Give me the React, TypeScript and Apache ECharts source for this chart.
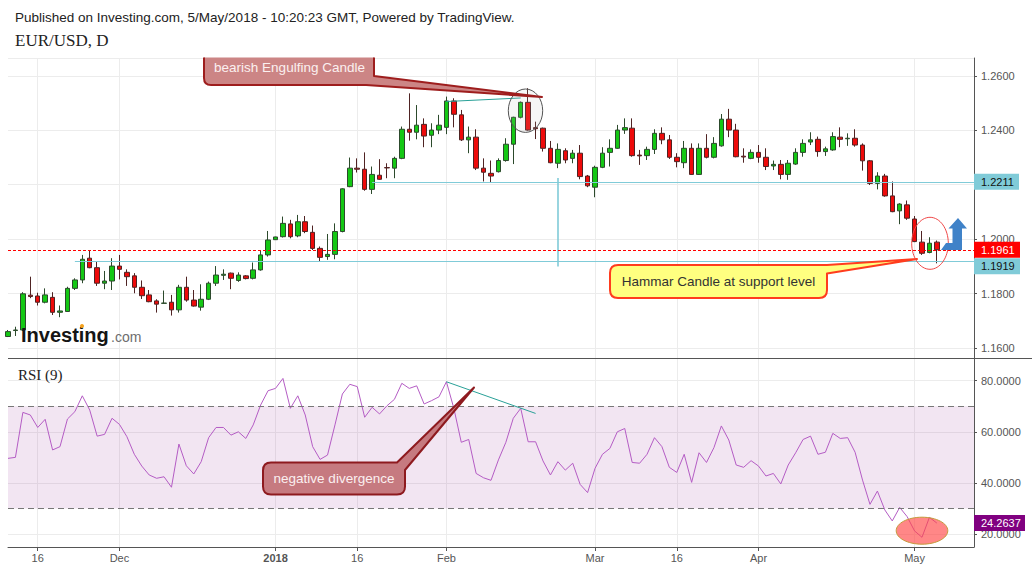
import React, { useEffect, useRef } from 'react';
import * as echarts from 'echarts';

const FONT = '"Liberation Sans", Arial, sans-serif';
const SERIF = '"Liberation Serif", "Times New Roman", serif';

const dates = [
  '2017-11-10', '2017-11-13', '2017-11-14', '2017-11-15', '2017-11-16', '2017-11-17', '2017-11-20', '2017-11-21', '2017-11-22', '2017-11-23', '2017-11-24', '2017-11-27', '2017-11-28', '2017-11-29', '2017-11-30',
  '2017-12-01', '2017-12-04', '2017-12-05', '2017-12-06', '2017-12-07', '2017-12-08', '2017-12-11', '2017-12-12', '2017-12-13', '2017-12-14', '2017-12-15', '2017-12-18', '2017-12-19', '2017-12-20', '2017-12-21', '2017-12-22', '2017-12-25', '2017-12-26', '2017-12-27', '2017-12-28', '2017-12-29',
  '2018-01-01', '2018-01-02', '2018-01-03', '2018-01-04', '2018-01-05', '2018-01-08', '2018-01-09', '2018-01-10', '2018-01-11', '2018-01-12', '2018-01-15', '2018-01-16', '2018-01-17', '2018-01-18', '2018-01-19', '2018-01-22', '2018-01-23', '2018-01-24', '2018-01-25', '2018-01-26', '2018-01-29', '2018-01-30', '2018-01-31',
  '2018-02-01', '2018-02-02', '2018-02-05', '2018-02-06', '2018-02-07', '2018-02-08', '2018-02-09', '2018-02-12', '2018-02-13', '2018-02-14', '2018-02-15', '2018-02-16', '2018-02-19', '2018-02-20', '2018-02-21', '2018-02-22', '2018-02-23', '2018-02-26', '2018-02-27', '2018-02-28',
  '2018-03-01', '2018-03-02', '2018-03-05', '2018-03-06', '2018-03-07', '2018-03-08', '2018-03-09', '2018-03-12', '2018-03-13', '2018-03-14', '2018-03-15', '2018-03-16', '2018-03-19', '2018-03-20', '2018-03-21', '2018-03-22', '2018-03-23', '2018-03-26', '2018-03-27', '2018-03-28', '2018-03-29', '2018-03-30',
  '2018-04-02', '2018-04-03', '2018-04-04', '2018-04-05', '2018-04-06', '2018-04-09', '2018-04-10', '2018-04-11', '2018-04-12', '2018-04-13', '2018-04-16', '2018-04-17', '2018-04-18', '2018-04-19', '2018-04-20', '2018-04-23', '2018-04-24', '2018-04-25', '2018-04-26', '2018-04-27', '2018-04-30',
  '2018-05-01', '2018-05-02', '2018-05-03', '2018-05-04',
];
const futureDates = ['2018-05-07', '2018-05-08', '2018-05-09', '2018-05-10', '2018-05-11'];

const dateLabels: Record<string, string> = {
  '2017-11-16': '16', '2017-12-01': 'Dec', '2018-01-01': '2018', '2018-01-16': '16', '2018-02-01': 'Feb',
  '2018-03-01': 'Mar', '2018-03-16': '16', '2018-04-02': 'Apr', '2018-05-01': 'May',
};

const openP = [
  1.1642, 1.1664, 1.1666, 1.1794, 1.1791, 1.1768, 1.1786, 1.1731, 1.1734, 1.1819, 1.1850, 1.1930, 1.1895, 1.1838, 1.1846,
  1.1901, 1.1878, 1.1865, 1.1823, 1.1795, 1.1773, 1.1764, 1.1768, 1.1740, 1.1823, 1.1776, 1.1750, 1.1779, 1.1838, 1.1867, 1.1875, 1.1848, 1.1865, 1.1856, 1.1887, 1.1942,
  1.1998, 1.2009, 1.2056, 1.2012, 1.2064, 1.2025, 1.1966, 1.1936, 1.1944, 1.2028, 1.2193, 1.2261, 1.2257, 1.2183, 1.2235, 1.2263, 1.2261, 1.2297, 1.2404, 1.2393, 1.2422, 1.2382, 1.2401,
  1.2411, 1.2508, 1.2457, 1.2365, 1.2375, 1.2261, 1.2242, 1.2248, 1.2289, 1.2349, 1.2448, 1.2503, 1.2410, 1.2408, 1.2334, 1.2279, 1.2325, 1.2297, 1.2316, 1.2232,
  1.2191, 1.2264, 1.2319, 1.2334, 1.2401, 1.2408, 1.2309, 1.2307, 1.2330, 1.2389, 1.2365, 1.2301, 1.2281, 1.2334, 1.2238, 1.2334, 1.2301, 1.2343, 1.2441, 1.2401, 1.2305, 1.2297,
  1.2319, 1.2301, 1.2269, 1.2275, 1.2238, 1.2276, 1.2319, 1.2357, 1.2367, 1.2322, 1.2328, 1.2375, 1.2369, 1.2371, 1.2346, 1.2288, 1.2205, 1.2232, 1.2159, 1.2104, 1.2126,
  1.2074, 1.1989, 1.1951, 1.1989,
];
const highP = [
  1.1666, 1.1678, 1.1805, 1.1862, 1.1803, 1.1819, 1.1805, 1.1756, 1.1825, 1.1856, 1.1942, 1.1958, 1.1917, 1.1883, 1.1930,
  1.1942, 1.1889, 1.1875, 1.1848, 1.1813, 1.1779, 1.1811, 1.1795, 1.1832, 1.1862, 1.1813, 1.1834, 1.1844, 1.1901, 1.1889, 1.1877, 1.1878, 1.1868, 1.1914, 1.1960, 1.2030,
  1.2009, 1.2083, 1.2071, 1.2089, 1.2085, 1.2050, 1.1973, 1.2019, 1.2058, 1.2187, 1.2300, 1.2297, 1.2319, 1.2267, 1.2294, 1.2279, 1.2303, 1.2414, 1.2536, 1.2493, 1.2444, 1.2426, 1.2457,
  1.2524, 1.2518, 1.2475, 1.2414, 1.2404, 1.2297, 1.2289, 1.2297, 1.2371, 1.2450, 1.2506, 1.2555, 1.2432, 1.2410, 1.2361, 1.2352, 1.2334, 1.2328, 1.2346, 1.2236,
  1.2270, 1.2338, 1.2367, 1.2420, 1.2444, 1.2444, 1.2328, 1.2340, 1.2404, 1.2411, 1.2383, 1.2316, 1.2361, 1.2352, 1.2352, 1.2386, 1.2375, 1.2460, 1.2479, 1.2424, 1.2334, 1.2330,
  1.2346, 1.2334, 1.2289, 1.2291, 1.2291, 1.2334, 1.2367, 1.2393, 1.2377, 1.2340, 1.2393, 1.2411, 1.2389, 1.2404, 1.2352, 1.2291, 1.2246, 1.2240, 1.2212, 1.2132, 1.2142,
  1.2085, 1.2030, 1.2007, 1.1995,
];
const lowP = [
  1.1640, 1.1644, 1.1662, 1.1783, 1.1756, 1.1764, 1.1721, 1.1713, 1.1734, 1.1813, 1.1838, 1.1893, 1.1828, 1.1816, 1.1813,
  1.1852, 1.1828, 1.1801, 1.1780, 1.1768, 1.1730, 1.1762, 1.1719, 1.1730, 1.1770, 1.1752, 1.1737, 1.1776, 1.1828, 1.1850, 1.1816, 1.1843, 1.1852, 1.1852, 1.1884, 1.1936,
  1.1997, 1.2006, 1.2003, 1.2007, 1.2022, 1.1960, 1.1917, 1.1924, 1.1926, 1.2025, 1.2191, 1.2245, 1.2178, 1.2166, 1.2218, 1.2224, 1.2224, 1.2294, 1.2362, 1.2367, 1.2338, 1.2338, 1.2386,
  1.2386, 1.2411, 1.2361, 1.2316, 1.2254, 1.2212, 1.2208, 1.2245, 1.2285, 1.2276, 1.2444, 1.2399, 1.2368, 1.2322, 1.2279, 1.2261, 1.2279, 1.2279, 1.2220, 1.2191,
  1.2154, 1.2261, 1.2267, 1.2332, 1.2387, 1.2303, 1.2273, 1.2291, 1.2313, 1.2349, 1.2295, 1.2264, 1.2261, 1.2236, 1.2236, 1.2297, 1.2297, 1.2340, 1.2375, 1.2301, 1.2281, 1.2294,
  1.2281, 1.2254, 1.2254, 1.2220, 1.2218, 1.2273, 1.2303, 1.2346, 1.2303, 1.2306, 1.2325, 1.2338, 1.2343, 1.2340, 1.2252, 1.2199, 1.2183, 1.2156, 1.2099, 1.2055, 1.2071,
  1.1989, 1.1942, 1.1948, 1.1911,
];
const closeP = [
  1.1660, 1.1666, 1.1799, 1.1789, 1.1768, 1.1795, 1.1731, 1.1736, 1.1819, 1.1850, 1.1926, 1.1895, 1.1838, 1.1846, 1.1901,
  1.1889, 1.1862, 1.1823, 1.1792, 1.1770, 1.1761, 1.1765, 1.1740, 1.1823, 1.1776, 1.1754, 1.1779, 1.1838, 1.1868, 1.1871, 1.1856, 1.1868, 1.1855, 1.1887, 1.1942, 1.1997,
  1.2008, 1.2058, 1.2009, 1.2064, 1.2028, 1.1966, 1.1933, 1.1944, 1.2028, 1.2185, 1.2261, 1.2257, 1.2183, 1.2238, 1.2220, 1.2262, 1.2297, 1.2404, 1.2393, 1.2419, 1.2379, 1.2401, 1.2419,
  1.2508, 1.2459, 1.2365, 1.2375, 1.2261, 1.2246, 1.2232, 1.2289, 1.2349, 1.2448, 1.2503, 1.2401, 1.2406, 1.2334, 1.2281, 1.2330, 1.2291, 1.2316, 1.2230, 1.2196,
  1.2264, 1.2316, 1.2334, 1.2401, 1.2410, 1.2307, 1.2306, 1.2330, 1.2389, 1.2365, 1.2301, 1.2285, 1.2334, 1.2238, 1.2334, 1.2301, 1.2352, 1.2441, 1.2401, 1.2303, 1.2302, 1.2319,
  1.2301, 1.2267, 1.2275, 1.2238, 1.2279, 1.2319, 1.2352, 1.2365, 1.2322, 1.2332, 1.2377, 1.2367, 1.2371, 1.2346, 1.2288, 1.2205, 1.2232, 1.2159, 1.2101, 1.2129, 1.2077,
  1.1991, 1.1948, 1.1985, 1.1961,
];
const rsiValues = [
  49.6, 50.0, 67.6, 66.6, 61.7, 64.9, 52.9, 54.2, 65.0, 67.9, 74.1, 68.5, 58.3, 59.0, 65.3,
  62.9, 58.1, 51.2, 46.6, 43.1, 41.8, 42.4, 38.3, 55.2, 46.7, 43.5, 48.3, 57.7, 61.7, 61.7, 58.7, 60.0, 57.4, 62.7, 70.5, 76.1,
  77.0, 80.9, 69.2, 74.1, 66.6, 54.2, 49.2, 50.9, 62.7, 74.8, 78.6, 77.7, 65.7, 69.6, 67.0, 70.2, 72.7, 79.0, 77.0, 78.0, 70.9, 72.2, 73.7,
  79.6, 69.2, 55.9, 57.0, 43.7, 42.0, 41.0, 49.0, 55.9, 65.3, 69.2, 56.1, 56.1, 48.6, 43.1, 48.3, 45.0, 47.7, 39.4, 36.2,
  45.7, 51.2, 53.5, 60.0, 61.3, 48.0, 47.7, 51.2, 57.7, 54.2, 46.1, 44.1, 51.2, 40.2, 51.8, 48.0, 53.8, 62.3, 56.8, 47.0, 46.1, 48.7,
  46.6, 42.7, 43.7, 39.6, 47.0, 51.8, 57.0, 58.3, 51.2, 52.0, 59.4, 57.4, 57.7, 52.0, 41.1, 31.6, 36.8, 29.4, 25.1, 30.4, 26.8,
  21.2, 18.7, 26.5, 24.2637,
];

const lastPrice = 1.1961;
const resistanceLevel = 1.2211;
const supportLevel = 1.1919;
const rsiOverbought = 70;
const rsiOversold = 30;
const rsiLast = 24.2637;

const registerPath = (name: string, d: string) => {
  echarts.graphic.registerShape(name, echarts.graphic.extendPath(d, {}) as any);
};
registerPath('bearishFill', 'M204 57.5 L374 57.5 L374 76 L542 97 L366 85 L211 85 Q204 85 204 78 Z');
registerPath('bearishLine', 'M204 57.5 L204 78 Q204 85 211 85 L366 85 L542 97 L374 76 L374 57.5');
registerPath('divCallout', 'M271 462.5 L397 462.5 L474 387.5 L405 470 L405 486.5 Q405 494.5 397 494.5 L271 494.5 Q263 494.5 263 486.5 L263 470.5 Q263 462.5 271 462.5 Z');
registerPath('hammarCallout', 'M618 265 L827 265 L917 259 L827 273.5 L827 290 Q827 298 819 298 L618 298 Q610 298 610 290 L610 273 Q610 265 618 265 Z');

export default function App() {
  const ref = useRef<HTMLDivElement>(null);
  useEffect(() => {
    const chart = echarts.init(ref.current!, null, { renderer: 'svg' });
    const cats = dates.concat(futureDates);
    const candles = dates.map((_, i) => [openP[i], closeP[i], lowP[i], highP[i]]);
    const isLabel = (_i: number, v: string) => dateLabels[v] !== undefined;
    const last = cats.length - 1;
    const blue = '#80cbd8';

    chart.setOption({
      animation: false,
      backgroundColor: '#ffffff',
      grid: [
        { left: 8, right: 58, top: 58, height: 300 },
        { left: 8, right: 58, top: 358, height: 189 },
      ],
      xAxis: [
        {
          type: 'category', gridIndex: 0, data: cats, boundaryGap: false,
          axisLine: { show: false }, axisTick: { show: false }, axisLabel: { show: false },
          splitLine: { show: true, interval: isLabel, lineStyle: { color: '#ececec' } },
        },
        {
          type: 'category', gridIndex: 1, data: cats, boundaryGap: false,
          axisLine: { show: true, lineStyle: { color: '#555' } },
          axisTick: { show: true, interval: isLabel, length: 4, lineStyle: { color: '#555' } },
          axisLabel: {
            show: true, interval: isLabel, margin: 5, color: '#555', fontSize: 11, fontFamily: FONT,
            formatter: (v: string) => (dateLabels[v] === '2018' ? '{b|2018}' : dateLabels[v] || ''),
            rich: { b: { fontWeight: 'bold', fontSize: 11, fontFamily: FONT, color: '#555' } },
          },
          splitLine: { show: true, interval: isLabel, lineStyle: { color: '#ececec' } },
        },
      ],
      yAxis: [
        {
          type: 'value', gridIndex: 0, position: 'right', min: 1.1563, max: 1.2666, splitNumber: 5,
          axisLine: { show: true, lineStyle: { color: '#555' } },
          axisTick: { show: true, length: 3, lineStyle: { color: '#555' } },
          axisLabel: {
            color: '#555', fontSize: 11, fontFamily: FONT, margin: 7, showMinLabel: false, showMaxLabel: false,
            // 1.2200 sits under the 1.2211 level tag in the original, so it is not shown
            formatter: (v: number) => (Math.abs(v - 1.22) < 1e-9 ? '' : v.toFixed(4)),
          },
          splitLine: { show: true, lineStyle: { color: '#ececec' } },
        },
        {
          type: 'value', gridIndex: 1, position: 'right', min: 14.9, max: 88.9, splitNumber: 3,
          axisLine: { show: true, lineStyle: { color: '#555' } },
          axisTick: { show: true, length: 3, lineStyle: { color: '#555' } },
          axisLabel: {
            color: '#555', fontSize: 11, fontFamily: FONT, margin: 7, showMinLabel: false, showMaxLabel: false,
            formatter: (v: number) => v.toFixed(4),
          },
          splitLine: { show: true, lineStyle: { color: '#ececec' } },
        },
      ],
      series: [
        {
          type: 'candlestick', xAxisIndex: 0, yAxisIndex: 0, data: candles, barWidth: 5,
          itemStyle: { color: '#14c814', color0: '#ee0a0a', borderColor: '#2c4a2c', borderColor0: '#4f2323', borderWidth: 1 },
          markLine: {
            silent: true, symbol: ['none', 'none'], label: { show: false }, animation: false, precision: 4,
            data: [
              [{ coord: [49, resistanceLevel], lineStyle: { color: blue, type: 'solid', width: 1 } }, { coord: [last, resistanceLevel] }],
              [{ coord: [9, supportLevel], lineStyle: { color: blue, type: 'solid', width: 1 } }, { coord: [last, supportLevel] }],
              [{ coord: [74, 1.2225], lineStyle: { color: blue, type: 'solid', width: 1.6 } }, { coord: [74, 1.1899] }],
              [{ coord: [59, 1.2506], lineStyle: { color: '#2aa198', type: 'solid', width: 1 } }, { coord: [69, 1.2519] }],
            ],
          },
        },
        {
          type: 'line', xAxisIndex: 1, yAxisIndex: 1, data: rsiValues, showSymbol: false, symbol: 'none',
          lineStyle: { color: '#b45cc4', width: 1 },
          markArea: {
            silent: true,
            itemStyle: { color: 'rgba(150,40,150,0.12)' },
            data: [[{ yAxis: rsiOversold }, { yAxis: rsiOverbought }]],
          },
          markLine: {
            silent: true, symbol: ['none', 'none'], label: { show: false }, animation: false, precision: 4,
            data: [
              [{ coord: [0, rsiOverbought], lineStyle: { color: '#777', type: [6, 4], width: 1 } }, { coord: [last, rsiOverbought] }],
              [{ coord: [0, rsiOversold], lineStyle: { color: '#777', type: [6, 4], width: 1 } }, { coord: [last, rsiOversold] }],
              [{ coord: [59, 79.6], lineStyle: { color: '#2aa198', type: 'solid', width: 1 } }, { coord: [71, 67.2] }],
            ],
          },
        },
      ],
    });

    const py = (v: number) => chart.convertToPixel({ yAxisIndex: 0 }, v) as number;
    const ry = (v: number) => chart.convertToPixel({ yAxisIndex: 1 }, v) as number;
    const x0 = chart.convertToPixel({ xAxisIndex: 0 }, 0) as number;
    const xEnd = chart.convertToPixel({ xAxisIndex: 0 }, last) as number;

    const tagEls = (cy: number, text: string, bg: string, color: string, width: number) => [
      { type: 'rect', z: 60, silent: true, shape: { x: 974, y: cy - 8, width, height: 16 }, style: { fill: bg } },
      {
        type: 'text', z: 61, silent: true, x: 981, y: cy,
        style: { text, fill: color, font: `11px ${FONT}`, verticalAlign: 'middle', textVerticalAlign: 'middle', align: 'left', textAlign: 'left' },
      },
    ];
    const txt = (x: number, y: number, text: string, font: string, fill: string, align = 'left') => ({
      type: 'text', z: 55, silent: true, x, y,
      style: { text, font, fill, align, textAlign: align, verticalAlign: 'middle', textVerticalAlign: 'middle' },
    });
    const lastY = Math.round(py(lastPrice)) + 0.5;

    const graphic: any[] = [
      txt(15, 17, 'Published on Investing.com, 5/May/2018 - 10:20:23 GMT, Powered by TradingView.', `13.5px ${FONT}`, '#222'),
      txt(15, 40, 'EUR/USD, D', `17px ${SERIF}`, '#222'),
      txt(18, 375, 'RSI (9)', `15px ${SERIF}`, '#222'),
      txt(21, 335, 'Investing', `bold 20px ${FONT}`, '#151515'),
      txt(111, 337, '.com', `14px ${FONT}`, '#6d6d6d'),
      { type: 'circle', z: 56, silent: true, shape: { cx: 82, cy: 326, r: 2 }, style: { fill: '#f4a11c' } },
      { type: 'line', z: 50, silent: true, shape: { x1: 8, y1: 358.5, x2: 1032, y2: 358.5 }, style: { stroke: '#555', lineWidth: 1 } },
      // last price line (red dotted)
      { type: 'line', z: 40, silent: true, shape: { x1: x0, y1: lastY, x2: xEnd, y2: lastY }, style: { stroke: '#ff0000', lineWidth: 1, lineDash: [3, 2] } },
      // bearish engulfing callout
      { type: 'bearishFill', z: 52, silent: true, style: { fill: '#cc8585' } },
      { type: 'bearishLine', z: 53, silent: true, style: { fill: 'none', stroke: '#9e1d1d', lineWidth: 2, lineJoin: 'round' } },
      txt(289.5, 67.5, 'bearish Engulfing Candle', `13.5px ${FONT}`, '#fbf0f0', 'center'),
      { type: 'ellipse', z: 52, silent: true, shape: { cx: 525.5, cy: 110.7, rx: 17.2, ry: 21.7 }, style: { fill: 'rgba(180,180,180,0.12)', stroke: '#555', lineWidth: 1 } },
      // negative divergence callout
      { type: 'divCallout', z: 52, silent: true, style: { fill: '#c67a80', stroke: '#8e1a1f', lineWidth: 2, lineJoin: 'round' } },
      txt(334, 478, 'negative divergence', `13.5px ${FONT}`, '#fbf0f0', 'center'),
      // hammer callout
      { type: 'hammarCallout', z: 52, silent: true, style: { fill: '#ffff80', stroke: '#ff3c1e', lineWidth: 2, lineJoin: 'round' } },
      txt(718.5, 281, 'Hammar Candle at support level', `13.5px ${FONT}`, '#333', 'center'),
      { type: 'ellipse', z: 52, silent: true, shape: { cx: 930, cy: 243.3, rx: 18.3, ry: 26 }, style: { fill: 'none', stroke: '#f04848', lineWidth: 1 } },
      // blue arrow
      {
        type: 'polygon', z: 52, silent: true,
        shape: { points: [[958, 218], [967, 228.5], [962, 228.5], [962, 250], [941, 250], [946, 243], [952.5, 243], [952.5, 228.5], [948.5, 228.5]] },
        style: { fill: '#3f82c8' },
      },
      // RSI oversold ellipse
      { type: 'ellipse', z: 52, silent: true, shape: { cx: 922, cy: 530.7, rx: 25.8, ry: 13.5 }, style: { fill: 'rgba(255,70,70,0.65)', stroke: '#c49a3a', lineWidth: 1 } },
      ...tagEls(py(resistanceLevel), resistanceLevel.toFixed(4), blue, '#111', 45),
      ...tagEls(py(lastPrice), lastPrice.toFixed(4), '#ff0000', '#ffffff', 46),
      ...tagEls(py(supportLevel) + 5, supportLevel.toFixed(4), blue, '#111', 46),
      ...tagEls(ry(rsiLast), rsiLast.toFixed(4), '#800080', '#ffffff', 51),
    ];
    chart.setOption({ graphic });

    return () => chart.dispose();
  }, []);
  return <div ref={ref} style={{ position: 'absolute', left: 0, top: 0, width: 1032, height: 571 }} />;
}
